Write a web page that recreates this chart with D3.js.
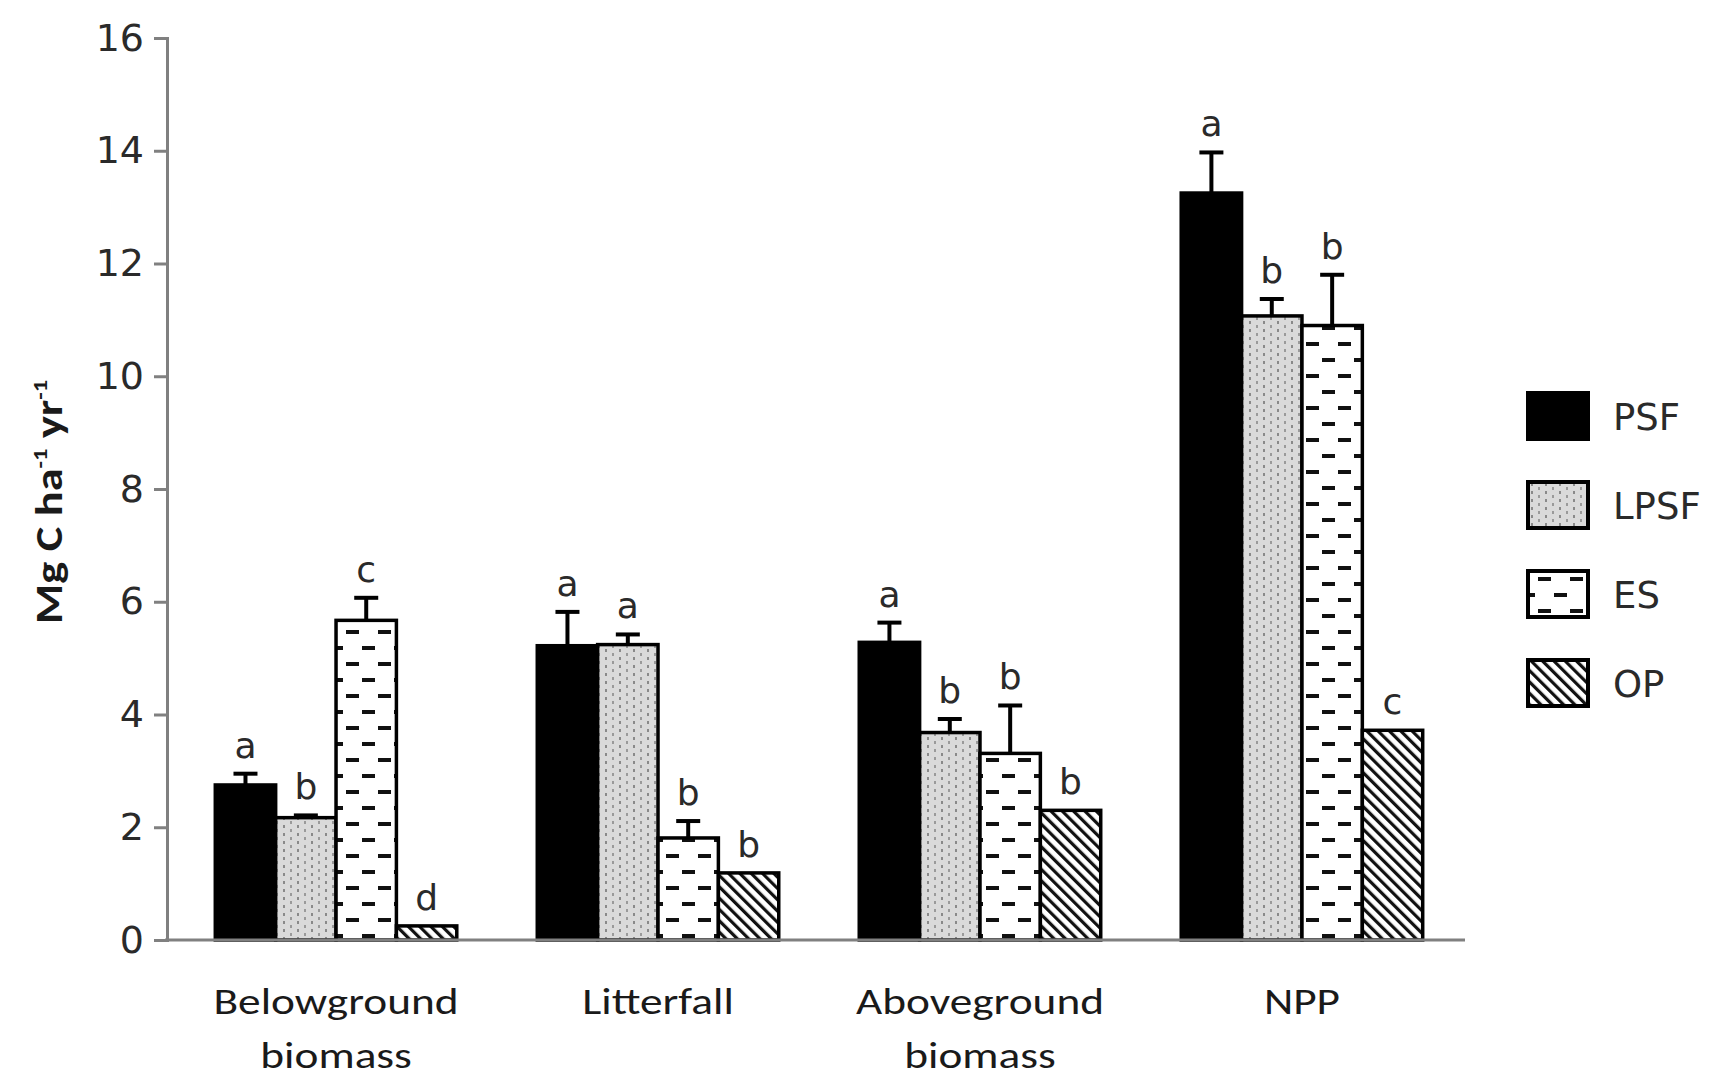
<!DOCTYPE html>
<html>
<head>
<meta charset="utf-8">
<script src="https://cdn.jsdelivr.net/npm/d3@7"></script>
<style>
  body { margin: 0; background: #fff; }
  svg { display: block; }
</style>
</head>
<body>
<script>
// data
let categories = [["Belowground", "biomass"], ["Litterfall"], ["Aboveground", "biomass"], ["NPP"]];
let series = ["PSF", "LPSF", "ES", "OP"];
let psf  = [2.75, 5.22, 5.28, 13.25];
let lpsf = [2.17, 5.24, 3.68, 11.07];
let es   = [5.67, 1.81, 3.31, 10.90];
let op   = [0.25, 1.19, 2.30, 3.72];
let psfErr  = [0.20, 0.60, 0.35, 0.72];
let lpsfErr = [0.04, 0.18, 0.24, 0.30];
let esErr   = [0.40, 0.30, 0.85, 0.90];
let opErr   = [0, 0, 0, 0];
let psfSig  = ["a", "a", "a", "a"];
let lpsfSig = ["b", "a", "b", "b"];
let esSig   = ["c", "b", "b", "b"];
let opSig   = ["d", "b", "b", "c"];
let yTicks = [0, 2, 4, 6, 8, 10, 12, 14, 16];

let w = 1721, h = 1086;
let margin = {left: 167, right: 256, top: 38, bottom: 146};

let values = [psf, lpsf, es, op];
let errs = [psfErr, lpsfErr, esErr, opErr];
let sigs = [psfSig, lpsfSig, esSig, opSig];

let rows = [];
categories.forEach((c, i) => {
  series.forEach((s, j) => {
    rows.push({cat: i, series: s, v: values[j][i], e: errs[j][i], sig: sigs[j][i]});
  });
});

let svg = d3.select("body").append("svg").attr("width", w).attr("height", h);
let defs = svg.append("defs");

// LPSF: light grey with small dark specks
let pL = defs.append("pattern").attr("id", "pat-LPSF").attr("patternUnits", "userSpaceOnUse")
  .attr("width", 14).attr("height", 8);
pL.append("rect").attr("width", 14).attr("height", 8).attr("fill", "#dadada");
pL.append("rect").attr("x", 3).attr("y", 1).attr("width", 2).attr("height", 3).attr("fill", "#8a8a8a");
pL.append("rect").attr("x", 10).attr("y", 5).attr("width", 2).attr("height", 3).attr("fill", "#9a9a9a");

// ES: white with staggered horizontal dashes
let pE = defs.append("pattern").attr("id", "pat-ES").attr("patternUnits", "userSpaceOnUse")
  .attr("width", 32).attr("height", 32);
pE.append("rect").attr("width", 32).attr("height", 32).attr("fill", "#fff");
pE.append("rect").attr("x", 10).attr("y", 6).attr("width", 13).attr("height", 4).attr("fill", "#111");
pE.append("rect").attr("x", 0).attr("y", 22).attr("width", 7).attr("height", 4).attr("fill", "#111");
pE.append("rect").attr("x", 26).attr("y", 22).attr("width", 6).attr("height", 4).attr("fill", "#111");

// OP: diagonal hatching
let pO = defs.append("pattern").attr("id", "pat-OP").attr("patternUnits", "userSpaceOnUse")
  .attr("width", 8).attr("height", 8).attr("patternTransform", "rotate(-45)");
pO.append("rect").attr("width", 8).attr("height", 8).attr("fill", "#fff");
pO.append("rect").attr("x", 0).attr("y", 0).attr("width", 3.2).attr("height", 8).attr("fill", "#111");

let fills = {PSF: "#000", LPSF: "url(#pat-LPSF)", ES: "url(#pat-ES)", OP: "url(#pat-OP)"};

let x0 = d3.scaleBand().domain(d3.range(categories.length))
  .range([margin.left, w - margin.right + 6]).paddingInner(0.25).paddingOuter(0.15);
let x1 = d3.scaleBand().domain(series).range([0, x0.bandwidth()]);
let y = d3.scaleLinear().domain([0, 16]).range([h - margin.bottom, margin.top]);

let axisColor = "#808080";

// y axis
let yAxis = svg.append("g").attr("transform", "translate(" + margin.left + ",0)")
  .call(d3.axisLeft(y).tickValues(yTicks).tickSize(13).tickPadding(10).tickFormat(d3.format("d")));
yAxis.select(".domain").attr("stroke", axisColor).attr("stroke-width", 3);
yAxis.selectAll(".tick line").attr("stroke", axisColor).attr("stroke-width", 3);
yAxis.selectAll(".tick text")
  .attr("font-family", "DejaVu Sans").attr("font-size", 38).attr("fill", "#2a2a2a");

// bars
let bars = svg.append("g").selectAll("g.bar").data(rows).enter().append("g");
bars.append("rect")
  .attr("x", d => x0(d.cat) + x1(d.series))
  .attr("y", d => y(d.v))
  .attr("width", x1.bandwidth())
  .attr("height", d => y(0) - y(d.v))
  .attr("fill", d => fills[d.series])
  .attr("stroke", "#000")
  .attr("stroke-width", 3.5);

// error bars (upper only)
let eb = bars.filter(d => d.e > 0);
eb.append("line")
  .attr("x1", d => x0(d.cat) + x1(d.series) + x1.bandwidth() / 2)
  .attr("x2", d => x0(d.cat) + x1(d.series) + x1.bandwidth() / 2)
  .attr("y1", d => y(d.v))
  .attr("y2", d => y(d.v + d.e))
  .attr("stroke", "#000").attr("stroke-width", 4);
eb.append("line")
  .attr("x1", d => x0(d.cat) + x1(d.series) + x1.bandwidth() / 2 - 12)
  .attr("x2", d => x0(d.cat) + x1(d.series) + x1.bandwidth() / 2 + 12)
  .attr("y1", d => y(d.v + d.e))
  .attr("y2", d => y(d.v + d.e))
  .attr("stroke", "#000").attr("stroke-width", 4);

// significance letters
bars.append("text")
  .attr("x", d => x0(d.cat) + x1(d.series) + x1.bandwidth() / 2)
  .attr("y", d => y(d.v + d.e) - 16)
  .attr("text-anchor", "middle")
  .attr("font-family", "DejaVu Sans").attr("font-size", 36).attr("fill", "#2a2a2a")
  .text(d => d.sig);

// x axis line
svg.append("line")
  .attr("x1", margin.left - 2).attr("x2", w - margin.right)
  .attr("y1", y(0)).attr("y2", y(0))
  .attr("stroke", axisColor).attr("stroke-width", 3);

// category labels
let catG = svg.append("g").selectAll("g").data(categories).enter().append("g")
  .attr("transform", (d, i) => "translate(" + (x0(i) + x0.bandwidth() / 2) + "," + (y(0) + 74) + ") scale(1.26,1)");
catG.append("text")
  .attr("text-anchor", "middle")
  .attr("font-family", "Carlito, 'Open Sans', sans-serif").attr("font-size", 36).attr("fill", "#1a1a1a")
  .selectAll("tspan").data(d => d).enter().append("tspan")
  .attr("x", 0).attr("dy", (d, i) => i === 0 ? 0 : 54)
  .text(d => d);

// y axis title
let yt = svg.append("text")
  .attr("transform", "translate(62," + 502 + ") rotate(-90) scale(1.22,1)")
  .attr("text-anchor", "middle")
  .attr("font-family", "Carlito, 'Open Sans', sans-serif").attr("font-size", 38)
  .attr("font-weight", 600).attr("fill", "#1a1a1a");
yt.append("tspan").text("Mg C ha");
yt.append("tspan").attr("font-size", 20).attr("dy", -15).text("-1");
yt.append("tspan").attr("dy", 15).text(" yr");
yt.append("tspan").attr("font-size", 20).attr("dy", -15).text("-1");

// legend
let legend = svg.append("g").selectAll("g").data(series).enter().append("g")
  .attr("transform", (d, i) => "translate(1528," + (393 + i * 89) + ")");
legend.append("rect")
  .attr("width", 60).attr("height", 46)
  .attr("fill", d => fills[d])
  .attr("stroke", "#000").attr("stroke-width", 4);
legend.append("text")
  .attr("x", 85).attr("y", 37)
  .attr("font-family", "DejaVu Sans").attr("font-size", 37).attr("fill", "#2a2a2a")
  .text(d => d);
</script>
</body>
</html>
